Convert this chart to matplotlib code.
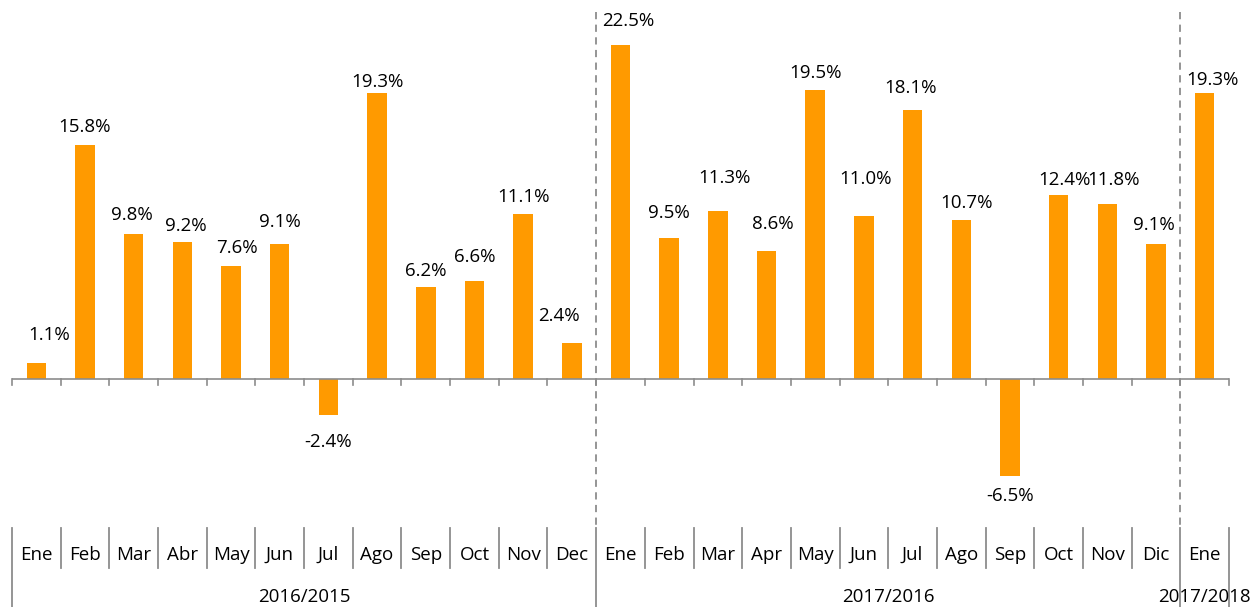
import matplotlib.pyplot as plt
import matplotlib.transforms as mtransforms
import numpy as np

months = ['Ene', 'Feb', 'Mar', 'Abr', 'May', 'Jun', 'Jul', 'Ago', 'Sep', 'Oct', 'Nov', 'Dec',
          'Ene', 'Feb', 'Mar', 'Apr', 'May', 'Jun', 'Jul', 'Ago', 'Sep', 'Oct', 'Nov', 'Dic',
          'Ene']
values = [1.1, 15.8, 9.8, 9.2, 7.6, 9.1, -2.4, 19.3, 6.2, 6.6, 11.1, 2.4,
          22.5, 9.5, 11.3, 8.6, 19.5, 11.0, 18.1, 10.7, -6.5, 12.4, 11.8, 9.1,
          19.3]
groups = ['2016/2015', '2017/2016', '2017/2018']
group_sizes = [12, 12, 1]

# hand-placed data labels in the original (pixel nudges / gap to the bar end)
label_dx = [13, 0, -2, 3, 6, 0, 0, 0, 0, 0, 0, -13,
            8, 0, 7, 6, 0, 2, -2, 5, 0, 6, 6, -2,
            8]
label_gap = [23, 13, 14, 11, 13, 17, 18, 6, 11, 19, 12, 22,
             19, 20, 28, 22, 12, 32, 17, 12, 11, 10, 19, 14,
             8]

plt.rcParams['font.family'] = ['Open Sans', 'DejaVu Sans']

fig = plt.figure(figsize=(12.55, 6.07), dpi=100)
ax = fig.add_axes([12 / 1255, 107 / 607, 1217 / 1255, 488 / 607])

x = np.arange(len(values)) + 0.5
ax.bar(x, values, width=0.4, color='#FF9A00', zorder=2)

for xi, v, dx, gap in zip(x, values, label_dx, label_gap):
    if v >= 0:
        ax.annotate(f'{v:.1f}%', (xi, v), xytext=(dx, gap), textcoords='offset pixels',
                    ha='center', va='baseline', fontsize=13.5)
    else:
        ax.annotate(f'{v:.1f}%', (xi, v), xytext=(dx, -gap), textcoords='offset pixels',
                    ha='center', va='top', fontsize=13.5)

ax.set_xlim(0, len(values))
ax.set_ylim(-8.15, 24.73)
ax.axhline(0, color='#8c8c8c', lw=1.2, zorder=3)
for s in ax.spines.values():
    s.set_visible(False)
ax.set_yticks([])
ax.set_xticks([])

trans = mtransforms.blended_transform_factory(ax.transData, ax.transAxes)
zero_y = ax.transAxes.inverted().transform(ax.transData.transform((0, 0)))[1]

# small ticks under the zero line
for b in range(len(values) + 1):
    ax.plot([b, b], [zero_y, zero_y - 0.012], color='#8c8c8c', lw=1.2,
            transform=trans, clip_on=False)

# category table below the plot
edges = np.cumsum([0] + group_sizes)
for b in range(len(values) + 1):
    if b in edges:
        y0 = -0.219
    else:
        y0 = -0.139
    ax.plot([b, b], [-0.057, y0], color='#8c8c8c', lw=1.3,
            transform=trans, clip_on=False)

for xi, m in zip(x, months):
    ax.text(xi, -0.113, m, transform=trans, ha='center', va='center', fontsize=13.5)

for i, g in enumerate(groups):
    mid = (edges[i] + edges[i + 1]) / 2
    ax.text(mid, -0.199, g, transform=trans, ha='center', va='center', fontsize=13.5)

# dashed year dividers
for b in edges[1:-1]:
    ax.plot([b, b], [1.0, -0.057], color='#8c8c8c', lw=1.3, ls=(0, (4, 3)),
            transform=trans, clip_on=False)

fig.savefig('out.png', dpi=100)
